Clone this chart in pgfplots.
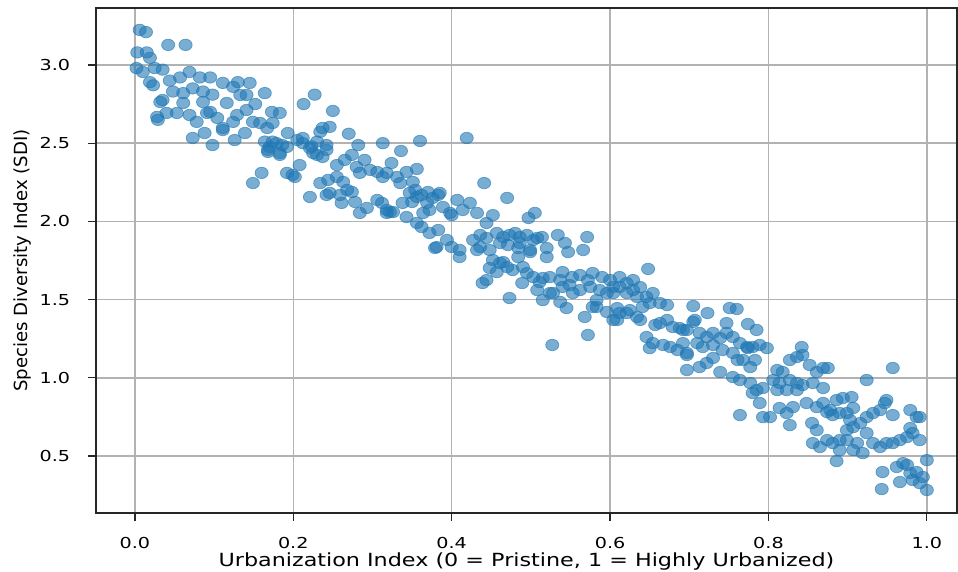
\documentclass[border=0pt]{standalone}
\usepackage{pgfplots}
\pgfplotsset{compat=1.18}
\usepackage{fontspec}
\setmainfont{DejaVu Sans}
\definecolor{mplblue}{RGB}{31,119,180}

% urbanization index vs species diversity
\pgfplotstableread{
x y
0.006 3.224
0.014 3.210
0.042 3.128
0.064 3.128
0.003 3.080
0.015 3.080
0.019 3.045
0.002 2.980
0.010 2.955
0.025 2.980
0.035 2.970
0.019 2.890
0.023 2.870
0.044 2.900
0.057 2.920
0.069 2.955
0.082 2.920
0.095 2.920
0.048 2.830
0.061 2.820
0.073 2.850
0.086 2.830
0.098 2.810
0.111 2.885
0.124 2.860
0.130 2.890
0.145 2.885
0.035 2.776
0.032 2.763
0.061 2.757
0.086 2.763
0.095 2.700
0.116 2.757
0.133 2.808
0.141 2.808
0.164 2.820
0.227 2.810
0.213 2.750
0.028 2.668
0.029 2.649
0.040 2.693
0.053 2.693
0.069 2.680
0.078 2.636
0.091 2.693
0.104 2.661
0.111 2.597
0.124 2.636
0.129 2.680
0.141 2.712
0.152 2.750
0.073 2.533
0.088 2.565
0.098 2.488
0.111 2.584
0.126 2.520
0.139 2.565
0.149 2.636
0.158 2.629
0.167 2.597
0.174 2.629
0.183 2.693
0.173 2.700
0.164 2.510
0.174 2.510
0.186 2.488
0.193 2.565
0.205 2.520
0.212 2.533
0.221 2.469
0.234 2.572
0.242 2.488
0.230 2.425
0.168 2.457
0.183 2.437
0.208 2.360
0.199 2.297
0.160 2.310
0.149 2.245
0.192 2.310
0.221 2.156
0.234 2.245
0.242 2.169
0.250 2.706
0.237 2.597
0.246 2.604
0.270 2.560
0.282 2.488
0.313 2.500
0.360 2.514
0.419 2.533
0.336 2.450
0.212 2.500
0.223 2.480
0.230 2.510
0.242 2.457
0.225 2.437
0.237 2.412
0.179 2.500
0.170 2.476
0.192 2.476
0.168 2.444
0.183 2.425
0.202 2.284
0.244 2.265
0.255 2.284
0.263 2.252
0.246 2.182
0.259 2.169
0.268 2.201
0.274 2.188
0.261 2.118
0.278 2.124
0.255 2.360
0.265 2.393
0.274 2.425
0.280 2.348
0.290 2.393
0.297 2.329
0.306 2.316
0.284 2.310
0.313 2.284
0.324 2.373
0.331 2.284
0.335 2.245
0.343 2.316
0.351 2.252
0.356 2.335
0.306 2.137
0.312 2.118
0.293 2.086
0.284 2.054
0.318 2.054
0.322 2.060
0.338 2.118
0.343 2.028
0.347 2.182
0.354 2.201
0.362 2.169
0.370 2.188
0.376 2.150
0.385 2.182
0.362 1.964
0.372 1.926
0.381 1.836
0.394 1.881
0.400 1.836
0.410 1.817
0.410 1.772
0.427 1.881
0.432 1.817
0.389 2.092
0.398 2.054
0.407 2.137
0.414 2.073
0.423 2.118
0.432 2.054
0.372 2.073
0.364 2.054
0.318 2.310
0.441 2.245
0.470 2.150
0.505 2.054
0.497 2.022
0.356 2.156
0.383 2.169
0.350 2.124
0.369 2.118
0.400 2.040
0.326 2.060
0.318 2.073
0.452 2.040
0.444 1.990
0.383 1.945
0.356 1.990
0.379 1.830
0.436 1.913
0.444 1.894
0.457 1.926
0.465 1.900
0.473 1.913
0.480 1.926
0.486 1.900
0.495 1.913
0.508 1.894
0.514 1.900
0.436 1.836
0.448 1.817
0.461 1.862
0.471 1.849
0.484 1.830
0.499 1.817
0.520 1.830
0.520 1.772
0.534 1.913
0.543 1.862
0.547 1.804
0.566 1.817
0.571 1.900
0.452 1.753
0.461 1.734
0.470 1.708
0.448 1.702
0.457 1.676
0.477 1.689
0.490 1.708
0.495 1.670
0.444 1.625
0.439 1.606
0.484 1.772
0.503 1.644
0.511 1.612
0.489 1.606
0.508 1.561
0.515 1.497
0.524 1.644
0.537 1.625
0.528 1.542
0.540 1.581
0.552 1.644
0.562 1.657
0.572 1.625
0.578 1.670
0.590 1.644
0.600 1.625
0.604 1.581
0.612 1.644
0.621 1.606
0.629 1.625
0.524 1.542
0.537 1.485
0.545 1.446
0.553 1.542
0.562 1.561
0.575 1.581
0.583 1.497
0.596 1.542
0.604 1.542
0.612 1.581
0.621 1.542
0.629 1.561
0.634 1.517
0.583 1.453
0.596 1.421
0.604 1.370
0.612 1.414
0.621 1.414
0.473 1.510
0.568 1.389
0.572 1.274
0.527 1.210
0.503 1.881
0.499 1.804
0.486 1.862
0.465 1.740
0.515 1.638
0.540 1.676
0.638 1.580
0.646 1.517
0.654 1.542
0.663 1.478
0.672 1.465
0.587 1.561
0.578 1.453
0.609 1.446
0.625 1.433
0.634 1.389
0.641 1.453
0.650 1.478
0.609 1.370
0.638 1.370
0.549 1.593
0.648 1.696
0.705 1.459
0.723 1.414
0.751 1.446
0.760 1.440
0.774 1.344
0.785 1.306
0.747 1.350
0.657 1.338
0.663 1.350
0.672 1.370
0.679 1.325
0.688 1.318
0.697 1.306
0.707 1.370
0.713 1.287
0.722 1.261
0.730 1.287
0.739 1.254
0.747 1.287
0.755 1.261
0.764 1.222
0.646 1.261
0.654 1.222
0.650 1.190
0.667 1.210
0.676 1.197
0.685 1.178
0.697 1.159
0.710 1.222
0.717 1.197
0.730 1.210
0.742 1.178
0.755 1.159
0.773 1.197
0.780 1.197
0.768 1.114
0.777 1.069
0.697 1.050
0.713 1.069
0.722 1.095
0.739 1.037
0.755 1.005
0.764 0.986
0.777 0.967
0.785 0.922
0.705 1.357
0.692 1.306
0.692 1.222
0.697 1.146
0.730 1.127
0.761 1.114
0.783 1.114
0.774 1.190
0.789 1.210
0.798 1.190
0.793 0.935
0.780 0.903
0.789 0.839
0.764 0.762
0.793 0.749
0.802 0.749
0.811 1.050
0.818 1.037
0.827 1.114
0.836 1.133
0.842 1.197
0.843 1.146
0.852 1.082
0.861 1.037
0.869 1.063
0.875 1.063
0.827 0.986
0.836 0.967
0.843 0.954
0.806 0.986
0.814 0.967
0.811 0.922
0.823 0.922
0.836 0.922
0.856 0.967
0.869 0.935
0.848 0.839
0.831 0.813
0.823 0.775
0.814 0.807
0.827 0.698
0.886 0.468
0.957 1.063
0.924 0.986
0.861 0.813
0.869 0.839
0.878 0.794
0.886 0.858
0.894 0.871
0.905 0.877
0.907 0.807
0.899 0.775
0.890 0.775
0.903 0.730
0.881 0.762
0.874 0.781
0.855 0.711
0.861 0.666
0.856 0.583
0.865 0.558
0.874 0.602
0.881 0.583
0.890 0.602
0.899 0.666
0.907 0.685
0.916 0.711
0.924 0.749
0.932 0.775
0.941 0.794
0.949 0.858
0.947 0.839
0.957 0.762
0.966 0.602
0.975 0.621
0.982 0.647
0.991 0.602
0.979 0.794
0.987 0.749
0.991 0.749
0.979 0.679
0.924 0.647
0.932 0.583
0.941 0.558
0.949 0.583
0.957 0.583
0.899 0.602
0.912 0.583
0.919 0.519
0.907 0.538
0.890 0.538
0.944 0.398
0.962 0.430
0.970 0.455
0.979 0.391
0.987 0.398
0.995 0.366
1.000 0.474
0.966 0.334
0.982 0.347
0.991 0.327
1.000 0.283
0.943 0.289
0.975 0.443
}\sdidata

\begin{document}
\begin{tikzpicture}
\begin{axis}[
    name=ax,
    scale only axis,
    width=570.8pt, height=334.8pt,
    xmin=-0.0492, xmax=1.038,
    ymin=0.136, ymax=3.364,
    xtick={0,0.2,0.4,0.6,0.8,1},
    ytick={0.5,1,1.5,2,2.5,3},
    grid=major,
    grid style={line width=1pt, black!30},
    axis line style={line width=0.8pt, black!85},
    tick align=outside,
    tick pos=left,
    major tick length=5pt,
    tick style={line width=0.8pt, black!85},
    tick label style={font=\fontsize{10}{12}\selectfont, inner sep=0pt},
    xticklabel={\scalebox{1.27}[1]{\pgfmathprintnumber[fixed,fixed zerofill,precision=1,assume math mode=true]{\tick}}},
    yticklabel={\scalebox{1.27}[1]{\pgfmathprintnumber[fixed,fixed zerofill,precision=1,assume math mode=true]{\tick}}},
    xticklabel style={anchor=north, yshift=-10.6pt},
    yticklabel style={anchor=east, xshift=-11.9pt},
    xlabel={\scalebox{1.23}[1]{Urbanization Index (0 = Pristine, 1 = Highly Urbanized)}},
    ylabel={Species Diversity Index (SDI)},
    label style={font=\fontsize{12}{14}\selectfont, inner sep=0pt},
    xlabel style={at={(axis description cs:0.5,0)}, anchor=north, yshift=-26.2pt},
    ylabel style={at={(axis description cs:-0.0851,0.5)}, anchor=center},
]
\addplot[only marks, mark=*, mark size=3.8pt,
    mark options={xscale=1.15, draw=mplblue, fill=mplblue, opacity=0.6, line width=0.5pt}]
    table[x=x, y=y] {\sdidata};
\end{axis}
\pgfresetboundingbox
\path[use as bounding box] ([xshift=-63.6pt, yshift=-39.1pt]ax.south west)
    rectangle ([xshift=0.7pt, yshift=5.3pt]ax.north east);
\end{tikzpicture}
\end{document}
